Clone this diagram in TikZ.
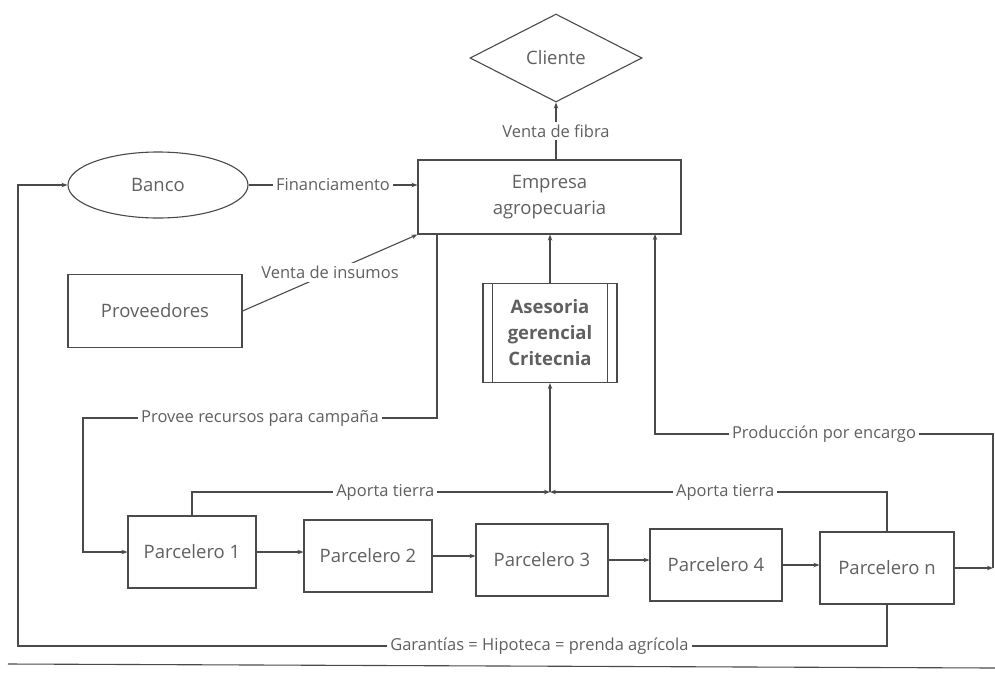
\documentclass[tikz,border=0pt]{standalone}
\usepackage{fontspec}
\setmainfont{Open Sans}
\usetikzlibrary{shapes.geometric,arrows.meta}
\definecolor{ink}{HTML}{4A4A4A}
\definecolor{txt}{HTML}{606060}
\tikzset{
  base/.style={draw=ink, line width=1.1pt, text=txt, font=\fontsize{18.5}{26}\selectfont, align=center, inner sep=2pt},
  box/.style={base, rectangle},
  lbl/.style={fill=white, text=txt, font=\fontsize{16.5}{19}\selectfont, inner sep=3pt},
  conn/.style={draw=ink, line width=1.1pt},
  arr/.style={conn, -{Stealth[length=6pt,width=4.5pt]}}
}
\begin{document}
\begin{tikzpicture}[x=1pt,y=-1pt]
\useasboundingbox (0,0) rectangle (995,678);
% nodes
\node[base, diamond, minimum width=172pt, minimum height=88pt, inner sep=0pt] (cli) at (556,58) {Cliente};
\node[box, minimum width=263pt, minimum height=74pt] (emp) at (549.5,197) {Empresa\\agropecuaria};
\node[base, ellipse, minimum width=180pt, minimum height=66pt] (ban) at (158,185) {Banco};
\node[box, minimum width=174pt, minimum height=73pt] (pro) at (155,311) {Proveedores};
\node[box, minimum width=134pt, minimum height=99pt, font=\fontsize{18.5}{26}\selectfont\bfseries] (ase) at (550,333) {Asesoria\\gerencial\\Critecnia};
\draw[conn] ([xshift=10pt]ase.north west) -- ([xshift=10pt]ase.south west);
\draw[conn] ([xshift=-10pt]ase.north east) -- ([xshift=-10pt]ase.south east);
\node[box, minimum width=128pt, minimum height=72pt] (p1) at (192,552) {Parcelero 1};
\node[box, minimum width=128pt, minimum height=72pt] (p2) at (368,556) {Parcelero 2};
\node[box, minimum width=132pt, minimum height=72pt] (p3) at (542,560) {Parcelero 3};
\node[box, minimum width=132pt, minimum height=72pt] (p4) at (716,565) {Parcelero 4};
\node[box, minimum width=134pt, minimum height=72pt] (pn) at (887,568) {Parcelero n};
% helper coordinates
\coordinate (e1) at (437,234);
\coordinate (e2) at (437,418);
\coordinate (e3) at (83,418);
\coordinate (r1) at (993,568);
\coordinate (r2) at (993,434);
\coordinate (e4) at (655,434);
\coordinate (e5) at (655,234);
\coordinate (j) at (550,492);
\coordinate (g1) at (887,646);
\coordinate (g2) at (18,646);
\coordinate (g3) at (18,185);
% connectors
\draw[arr] (emp.north -| cli.south) -- node[lbl, pos=0.5] {Venta de fibra} (cli.south);
\draw[arr] (ban.east) -- node[lbl] {Financiamento} (ban.east -| emp.west);
\draw[arr] (pro.east) -- node[lbl] {Venta de insumos} (emp.south west);
\draw[arr] (ase.north) -- (ase.north |- emp.south);
\draw[arr] (e1) -- (e2) -- node[lbl, pos=0.5] {Provee recursos para campaña} (e3) |- (p1.west);
\draw[arr] (pn.east) -- (r1);
\draw[arr] (r1) -- (r2) -- node[lbl, pos=0.5] {Producción por encargo} (e4) -- (e5);
\draw[arr] (p1.north) |- node[lbl, pos=0.77] {Aporta tierra} (j);
\draw[arr] (pn.north) |- node[lbl, pos=0.74] {Aporta tierra} (j);
\draw[arr] (j) -- (ase.south);
\draw[arr] (p1.east) -- (p1.east -| p2.west);
\draw[arr] (p2.east) -- (p2.east -| p3.west);
\draw[arr] (p3.east) -- (p3.east -| p4.west);
\draw[arr] (p4.east) -- (p4.east -| pn.west);
\draw[arr] (pn.south) -- (g1) -- node[lbl, pos=0.4] {Garantías = Hipoteca = prenda agrícola} (g2) -- (g3) -- (ban.west);
% page rule
\draw[conn] (8,664) -- (995,668);
\end{tikzpicture}
\end{document}
